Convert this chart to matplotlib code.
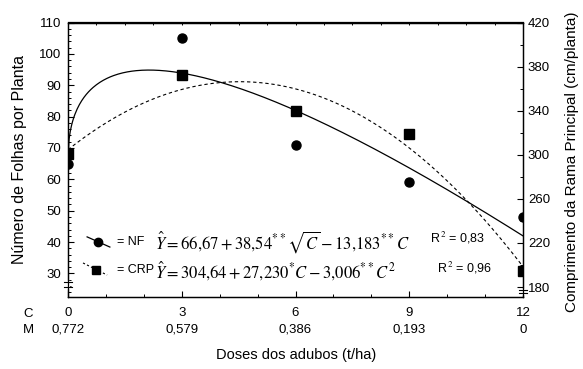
import numpy as np
import matplotlib
matplotlib.use("Agg")
import matplotlib.pyplot as plt
from matplotlib.ticker import MultipleLocator
from matplotlib.transforms import blended_transform_factory

plt.rcParams['font.family'] = ['Liberation Sans', 'DejaVu Sans']
plt.rcParams['mathtext.fontset'] = 'stix'

# data
doses_c = [0, 3, 6, 9, 12]
doses_m = ['0,772', '0,579', '0,386', '0,193', '0']
nf_obs = [65, 105, 71, 59, 48]          # Numero de folhas (left axis)
crp_obs = [301, 372, 340, 319, 195]     # Comprimento rama principal (right axis)

# fitted models shown on the chart
nf_coef = [66.67, 38.54, -13.183]       # a + b*sqrt(C) + c*C
crp_coef = [304.64, 27.230, -3.006]     # a + b*C + c*C^2

cc = np.linspace(0, 12, 400)
nf_fit = nf_coef[0] + nf_coef[1] * np.sqrt(cc) + nf_coef[2] * cc
crp_fit = crp_coef[0] + crp_coef[1] * cc + crp_coef[2] * cc ** 2

fig = plt.figure(figsize=(5.83, 3.69), dpi=100)
ax = fig.add_axes([68/583, 72/369, 455/583, 274.5/369])
ax2 = ax.twinx()

ax.plot(cc, nf_fit, color='black', lw=0.9)
ax.plot(doses_c, nf_obs, 'o', color='black', ms=6.5)
ax2.plot(cc, crp_fit, color='black', lw=0.8, linestyle=(0, (3, 2.5)))
ax2.plot(doses_c, crp_obs, 's', color='black', ms=6.5)

ax.set_xlim(0, 12)
ax.set_ylim(22.5, 110)
ax2.set_ylim(171, 420)

ax.set_yticks([30, 40, 50, 60, 70, 80, 90, 100, 110])
ax.yaxis.set_minor_locator(MultipleLocator(2))
ax2.set_yticks([180, 220, 260, 300, 340, 380, 420])
ax2.yaxis.set_minor_locator(MultipleLocator(20))
ax.set_xticks(doses_c)
ax.set_xticklabels([str(c) for c in doses_c])
ax.xaxis.set_minor_locator(MultipleLocator(1))

tick_font = dict(labelsize=9.5)
ax.tick_params(axis='both', which='major', direction='in', length=4, width=0.8, **tick_font)
ax.tick_params(axis='both', which='minor', direction='in', length=2.2, width=0.7)
ax.tick_params(axis='y', pad=5)
ax.tick_params(axis='x', pad=7)
ax2.tick_params(axis='y', which='major', direction='in', length=4, width=0.8, pad=3.5, **tick_font)
ax2.tick_params(axis='y', which='minor', direction='in', length=2.2, width=0.7)

top = ax.secondary_xaxis('top')
top.set_xticks(np.arange(0, 12.01, 0.75))
top.set_xticklabels([])
top.tick_params(direction='in', length=2.5, width=0.7)
top.spines['top'].set_linewidth(0.9)

for a in (ax, ax2):
    for s in a.spines.values():
        s.set_linewidth(0.9)

# axis break marks
for xb, y1, y2 in [(0.0, 0.053, 0.036), (1.0, 0.025, 0.013)]:
    ax.plot([xb, xb], [y1, y2], color='white', lw=2.5, transform=ax.transAxes, clip_on=False, zorder=5)
    for yy in (y1, y2):
        ax.plot([xb - 0.009, xb + 0.009], [yy, yy], color='black', lw=0.8,
                transform=ax.transAxes, clip_on=False, zorder=6)

# second row of x labels (M) and row names
trans = blended_transform_factory(ax.transData, ax.transAxes)
for c, m in zip(doses_c, doses_m):
    ax.text(c, -0.12, m, transform=trans, ha='center', va='center', fontsize=9.5)
ax.text(-0.088, -0.062, 'C', transform=ax.transAxes, ha='center', va='center', fontsize=9.5)
ax.text(-0.088, -0.12, 'M', transform=ax.transAxes, ha='center', va='center', fontsize=9.5)

fig.text(296/583, 14/369, 'Doses dos adubos (t/ha)', ha='center', va='center', fontsize=10.5)
fig.text(20/583, 0.5 + (369/2 - 160)/369, 'Número de Folhas por Planta', rotation=90,
         ha='center', va='center', fontsize=11.5)
fig.text(572/583, 0.5 + (369/2 - 162)/369, 'Comprimento da Rama Principal (cm/planta)', rotation=90,
         ha='center', va='center', fontsize=11)

# legend-like annotations
ax.plot([0.042, 0.092], [0.219, 0.182], color='black', lw=0.9, transform=ax.transAxes)
ax.plot([0.066], [0.200], 'o', color='black', ms=6, transform=ax.transAxes)
ax.plot([0.033, 0.086], [0.124, 0.080], color='black', lw=0.8, linestyle=(0, (2, 2)),
        transform=ax.transAxes)
ax.plot([0.0615], [0.098], 's', color='black', ms=6, transform=ax.transAxes)
ax.text(0.108, 0.200, '= NF', transform=ax.transAxes, va='center', fontsize=9)
ax.text(0.108, 0.098, '= CRP', transform=ax.transAxes, va='center', fontsize=9)
ax.text(0.191, 0.200, r'$\hat{Y} = 66{,}67 + 38{,}54^{**}\sqrt{C} - 13{,}183^{**}C$',
        transform=ax.transAxes, va='center', fontsize=12)
ax.text(0.191, 0.098, r'$\hat{Y} = 304{,}64 + 27{,}230^{*}C - 3{,}006^{**}C^{2}$',
        transform=ax.transAxes, va='center', fontsize=12)
ax.text(0.796, 0.215, r'R$^{\,2}$ = 0,83', transform=ax.transAxes, va='center', fontsize=9)
ax.text(0.811, 0.106, r'R$^{\,2}$ = 0,96', transform=ax.transAxes, va='center', fontsize=9)

fig.savefig('out.png', dpi=100)
